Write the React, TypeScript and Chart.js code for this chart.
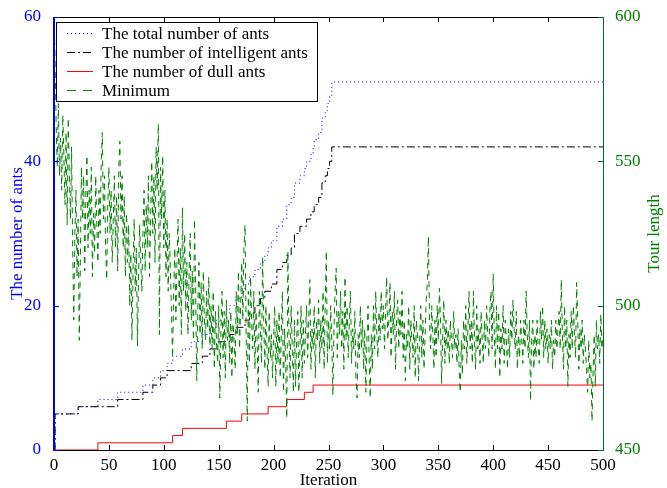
import React, { useEffect, useRef } from "react";
import { Chart, registerables } from "chart.js";
Chart.register(...registerables);

// Step series: iteration at which the value changes, and the new value
const dullIter = [0, 40, 108, 117, 157, 171, 195, 212, 228, 236, 500];
const dullCount = [0, 1, 2, 3, 4, 5, 6, 7, 8, 9, 9];

const intelIter = [0, 1, 22, 58, 81, 90, 97, 103, 125, 135, 142, 148, 160, 166, 174, 178, 183, 188, 192, 198, 203, 208, 212, 216, 219, 224, 230, 234, 237, 241, 244, 247, 249, 251, 253, 500];
const intelCount = [0, 5, 6, 7, 8, 9, 10, 11, 12, 13, 14, 15, 16, 17, 18, 19, 20, 21, 22, 23, 25, 26, 27, 28, 30, 31, 32, 33, 34, 35, 37, 38, 39, 40, 42, 42];

const totalIter = [0, 1, 22, 40, 58, 81, 90, 97, 103, 108, 117, 125, 135, 142, 148, 157, 160, 166, 171, 174, 178, 183, 188, 192, 195, 198, 203, 208, 212, 216, 219, 224, 228, 230, 234, 236, 237, 241, 244, 247, 249, 251, 253, 500];
const totalCount = [0, 5, 6, 7, 8, 9, 10, 11, 12, 13, 14, 15, 16, 17, 18, 19, 20, 21, 22, 23, 24, 25, 26, 27, 28, 29, 31, 32, 34, 35, 37, 38, 39, 40, 41, 42, 43, 44, 46, 47, 48, 49, 51, 51];

// Minimum tour length at each iteration (0..500)
const minTour = [
  600, 585, 562, 548, 570, 545, 558, 540, 566, 552, 535, 560, 528, 565, 545, 530, 555, 520, 495, 525,
  540, 510, 530, 488, 515, 548, 530, 545, 512, 538, 552, 520, 540, 525, 548, 510, 532, 518, 545, 528,
  515, 540, 525, 550, 560, 530, 545, 520, 509, 535, 548, 525, 540, 515, 530, 545, 520, 538, 512, 548,
  557, 530, 545, 520, 538, 510, 532, 515, 528, 500, 518, 488, 512, 530, 505, 520, 486, 510, 528, 515,
  505, 525, 540, 512, 535, 520, 545, 510, 530, 550, 525, 545, 515, 555, 540, 563, 490, 548, 530, 552,
  520, 540, 510, 530, 505, 525, 512, 498, 482, 505, 520, 495, 515, 530, 500, 520, 490, 534, 505, 525,
  498, 515, 490, 510, 525, 495, 512, 488, 530, 505, 474, 500, 515, 490, 508, 485, 512, 495, 488, 505,
  492, 510, 486, 500, 485, 505, 478, 498, 488, 480, 500, 468, 490, 505, 482, 498, 475, 502, 488, 495,
  480, 498, 475, 494, 488, 478, 505, 490, 512, 485, 500, 515, 495, 520, 528, 490, 460, 505, 480, 510,
  495, 485, 505, 478, 498, 488, 470, 505, 492, 480, 517, 495, 478, 500, 485, 472, 498, 482, 490, 475,
  488, 500, 472, 495, 480, 498, 475, 490, 505, 470, 492, 480, 461, 519, 490, 475, 500, 485, 470, 495,
  472, 488, 498, 470, 485, 500, 475, 495, 480, 490, 500, 482, 495, 509, 478, 492, 485, 500, 475, 495,
  488, 502, 480, 495, 485, 505, 478, 500, 519, 480, 495, 485, 500, 488, 469, 492, 505, 513, 482, 498,
  490, 505, 485, 498, 478, 510, 488, 500, 482, 495, 505, 480, 492, 485, 498, 475, 468, 490, 482, 500,
  485, 495, 478, 492, 470, 488, 500, 482, 468, 490, 478, 500, 485, 505, 490, 482, 498, 488, 505, 492,
  500, 485, 498, 510, 488, 495, 508, 482, 498, 490, 505, 478, 495, 502, 485, 498, 490, 505, 482, 495,
  474, 490, 485, 500, 478, 495, 488, 482, 500, 475, 495, 490, 474, 488, 500, 482, 495, 478, 490, 502,
  508, 524, 495, 485, 500, 490, 478, 495, 482, 500, 488, 506, 495, 473, 490, 502, 480, 495, 485, 492,
  480, 495, 488, 482, 498, 485, 490, 480, 492, 478, 470, 488, 476, 495, 485, 500, 480, 492, 505, 485,
  495, 480, 505, 488, 478, 500, 485, 492, 480, 498, 488, 480, 495, 485, 500, 490, 482, 498, 505, 485,
  511, 490, 478, 500, 485, 498, 475, 492, 485, 500, 480, 495, 488, 478, 492, 482, 498, 488, 502, 492,
  485, 498, 478, 490, 482, 495, 488, 480, 495, 485, 505, 490, 482, 495, 467, 488, 495, 478, 490, 482,
  495, 485, 480, 498, 488, 500, 482, 495, 485, 492, 480, 490, 485, 495, 478, 488, 482, 495, 485, 492,
  498, 485, 509, 490, 478, 500, 485, 495, 472, 490, 482, 498, 485, 500, 490, 482, 508, 495, 478, 492,
  485, 495, 480, 490, 485, 478, 470, 488, 475, 480, 460, 478, 490, 472, 495, 485, 490, 480, 497, 485,
  490,
];

const xTicks = [0, 50, 100, 150, 200, 250, 300, 350, 400, 450, 500];
const leftTicks = [0, 20, 40, 60];
const rightTicks = [450, 500, 550, 600];

const legendLabels = [
  "The total number of ants",
  "The number of intelligent ants",
  "The number of dull ants",
  "Minimum",
];

const SERIF = '"Liberation Serif", "Times New Roman", serif';
const BLUE = "#0000ff";
const GREEN = "#008000";
const RED = "#ff0000";
const DARKGREEN = "#006633";

const framePlugin = {
  id: "frame",
  afterDatasetsDraw(chart: any) {
    const { ctx, chartArea: a, scales } = chart;
    const x = scales.x, y = scales.y, y1 = scales.y1;
    ctx.save();
    ctx.lineWidth = 1;
    ctx.strokeStyle = "#000";
    ctx.beginPath();
    ctx.moveTo(a.left, a.top + 0.5);
    ctx.lineTo(a.right, a.top + 0.5);
    ctx.moveTo(a.left, a.bottom + 0.5);
    ctx.lineTo(a.right, a.bottom + 0.5);
    xTicks.forEach((t) => {
      const px = Math.round(x.getPixelForValue(t)) + 0.5;
      ctx.moveTo(px, a.bottom);
      ctx.lineTo(px, a.bottom - 5);
      ctx.moveTo(px, a.top);
      ctx.lineTo(px, a.top + 5);
    });
    ctx.stroke();
    ctx.strokeStyle = DARKGREEN;
    ctx.beginPath();
    ctx.moveTo(a.right + 0.5, a.top);
    ctx.lineTo(a.right + 0.5, a.bottom + 1);
    rightTicks.forEach((t) => {
      const py = Math.round(y1.getPixelForValue(t)) + 0.5;
      ctx.moveTo(a.right, py);
      ctx.lineTo(a.right - 5, py);
    });
    ctx.stroke();
    ctx.strokeStyle = BLUE;
    ctx.lineWidth = 2;
    ctx.beginPath();
    ctx.moveTo(a.left, a.top);
    ctx.lineTo(a.left, a.bottom + 1);
    ctx.stroke();
    ctx.lineWidth = 1;
    ctx.beginPath();
    leftTicks.forEach((t) => {
      const py = Math.round(y.getPixelForValue(t)) + 0.5;
      ctx.moveTo(a.left, py);
      ctx.lineTo(a.left + 5, py);
    });
    ctx.stroke();

    ctx.font = "17px " + SERIF;
    ctx.textAlign = "center";
    ctx.textBaseline = "middle";
    ctx.fillStyle = "#000";
    ctx.fillText("Iteration", (a.left + a.right) / 2, 481);
    ctx.save();
    ctx.translate(18, (a.top + a.bottom) / 2);
    ctx.rotate(-Math.PI / 2);
    ctx.fillStyle = BLUE;
    ctx.fillText("The number of ants", 0, 0);
    ctx.restore();
    ctx.save();
    ctx.translate(655, (a.top + a.bottom) / 2);
    ctx.rotate(-Math.PI / 2);
    ctx.fillStyle = GREEN;
    ctx.fillText("Tour length", 0, 0);
    ctx.restore();

    const lx = 56.5, ly = 22.5, lw = 261, lh = 79;
    ctx.fillStyle = "#fff";
    ctx.fillRect(lx, ly, lw, lh);
    ctx.strokeStyle = "#000";
    ctx.lineWidth = 1;
    ctx.strokeRect(lx, ly, lw, lh);
    const rows = [33.5, 52.5, 71.5, 90.5];
    const styles = [
      { c: BLUE, d: [1, 3] },
      { c: "#000", d: [8, 3, 2, 3] },
      { c: RED, d: [] },
      { c: GREEN, d: [9, 7] },
    ];
    rows.forEach((ry, i) => {
      ctx.strokeStyle = styles[i].c;
      ctx.setLineDash(styles[i].d);
      ctx.beginPath();
      ctx.moveTo(67, ry);
      ctx.lineTo(93, ry);
      ctx.stroke();
      ctx.setLineDash([]);
      ctx.fillStyle = "#000";
      ctx.textAlign = "left";
      ctx.textBaseline = "middle";
      ctx.fillText(legendLabels[i], 102, ry + 1);
    });
    ctx.restore();
  },
};

export default function App() {
  const ref = useRef<HTMLCanvasElement>(null);
  useEffect(() => {
    document.body.style.margin = "0";
    const toPts = (xs: number[], ys: number[]) => xs.map((v, i) => ({ x: v, y: ys[i] }));
    const chart = new Chart(ref.current!, {
      type: "line",
      data: {
        datasets: [
          {
            label: "Minimum",
            data: minTour.map((v, i) => ({ x: i, y: v })),
            yAxisID: "y1",
            borderColor: GREEN,
            borderWidth: 1,
            borderDash: [6, 5],
            pointRadius: 0,
            tension: 0,
            order: 0,
          },
          {
            label: "The number of dull ants",
            data: toPts(dullIter, dullCount),
            yAxisID: "y",
            borderColor: RED,
            borderWidth: 1,
            pointRadius: 0,
            stepped: "before",
            order: 1,
          },
          {
            label: "The number of intelligent ants",
            data: toPts(intelIter, intelCount),
            yAxisID: "y",
            borderColor: "#000",
            borderWidth: 1,
            borderDash: [8, 3, 2, 3],
            pointRadius: 0,
            stepped: "before",
            order: 2,
          },
          {
            label: "The total number of ants",
            data: toPts(totalIter, totalCount),
            yAxisID: "y",
            borderColor: BLUE,
            borderWidth: 1,
            borderDash: [1, 3],
            pointRadius: 0,
            stepped: "before",
            order: 3,
          },
        ],
      },
      options: {
        responsive: false,
        animation: false,
        layout: { padding: { top: 17, left: 0, right: 0, bottom: 0 } },
        plugins: { legend: { display: false }, tooltip: { enabled: false } },
        scales: {
          x: {
            type: "linear",
            min: 0,
            max: 500,
            afterFit: (s: any) => { s.height = 38; },
            afterBuildTicks: (s: any) => { s.ticks = xTicks.map((v) => ({ value: v })); },
            grid: { display: false },
            border: { display: false },
            ticks: { color: "#000", font: { family: SERIF, size: 17 }, padding: -3, maxRotation: 0 },
          },
          y: {
            position: "left",
            min: 0,
            max: 60,
            afterFit: (s: any) => { s.width = 54; },
            afterBuildTicks: (s: any) => { s.ticks = leftTicks.map((v) => ({ value: v })); },
            grid: { display: false },
            border: { display: false },
            ticks: { color: BLUE, font: { family: SERIF, size: 17 }, padding: 5 },
          },
          y1: {
            position: "right",
            min: 450,
            max: 600,
            afterFit: (s: any) => { s.width = 64; },
            afterBuildTicks: (s: any) => { s.ticks = rightTicks.map((v) => ({ value: v })); },
            grid: { display: false },
            border: { display: false },
            ticks: { color: GREEN, font: { family: SERIF, size: 17 }, padding: 4 },
          },
        },
      },
      plugins: [framePlugin],
    } as any);
    return () => chart.destroy();
  }, []);
  return (
    <div style={{ position: "absolute", left: 0, top: 0, width: 667, height: 488, background: "#fff" }}>
      <canvas ref={ref} width={667} height={488} />
    </div>
  );
}
